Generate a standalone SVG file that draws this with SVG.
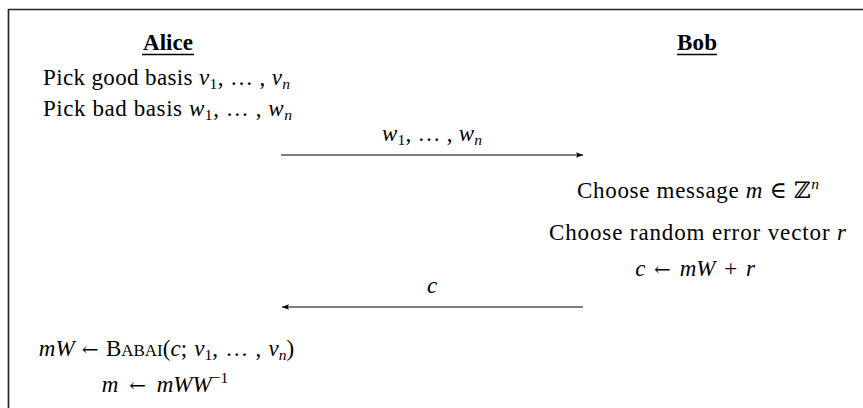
<svg xmlns="http://www.w3.org/2000/svg" width="863" height="408" viewBox="0 0 863 408">
<defs>
<style>
text{font-family:"Liberation Serif","DejaVu Serif",serif;font-size:23px;fill:#000;text-anchor:middle}
.b{font-weight:bold}
.i{font-style:italic}
.sub{font-size:15.5px;font-style:normal}
.si{font-size:15.5px;font-style:italic}
.ar{font-family:"DejaVu Serif",serif;font-size:20px}
.frame{stroke:#262626;stroke-width:1.7;fill:none}
.conn{stroke:#000;stroke-width:1.1;fill:none}
.ul{stroke:#000;stroke-width:1.3}
</style>
<marker id="ah" viewBox="0 0 10 10" refX="10" refY="5" markerWidth="10" markerHeight="7" markerUnits="userSpaceOnUse" orient="auto">
<path d="M0,1 L10,5 L0,9 L2,5 Z" fill="#000"/>
</marker>
</defs>
<rect width="863" height="408" fill="#fff"/>
<path class="frame" d="M8.5,420 L8.5,9.5 L870,9.5"/>
<g id="alice">
<text class="b" x="168" y="50" textLength="50">Alice</text>
<line class="ul" x1="142" y1="54.5" x2="194" y2="54.5"/>
<text x="166.5" y="85" textLength="247">Pick good basis <tspan class="i">v</tspan><tspan class="sub" dy="4">1</tspan><tspan dy="-4">, … , </tspan><tspan class="i">v</tspan><tspan class="si" dy="4">n</tspan></text>
<text x="167.5" y="116" textLength="249">Pick bad basis <tspan class="i">w</tspan><tspan class="sub" dy="4">1</tspan><tspan dy="-4">, … , </tspan><tspan class="i">w</tspan><tspan class="si" dy="4">n</tspan></text>
<text x="166.5" y="356" word-spacing="1.5"><tspan class="i">mW</tspan> <tspan class="ar">←</tspan> B<tspan font-size="17">ABAI</tspan>(<tspan class="i">c</tspan>; <tspan class="i">v</tspan><tspan class="sub" dy="4">1</tspan><tspan dy="-4">, … , </tspan><tspan class="i">v</tspan><tspan class="si" dy="4">n</tspan><tspan dy="-4">)</tspan></text>
<text x="165" y="392" word-spacing="5"><tspan class="i">m</tspan> <tspan class="ar">←</tspan> <tspan class="i">mWW</tspan><tspan class="sub" dy="-9">−1</tspan></text>
</g>
<g id="bob">
<text class="b" x="697" y="50" textLength="40">Bob</text>
<line class="ul" x1="677" y1="54.5" x2="717" y2="54.5"/>
<text x="698" y="198" textLength="242">Choose message <tspan class="i">m</tspan> ∈ ℤ<tspan class="si" dy="-9">n</tspan></text>
<text x="697.5" y="240" textLength="297">Choose random error vector <tspan class="i">r</tspan></text>
<text x="695" y="276" word-spacing="3"><tspan class="i">c</tspan> <tspan class="ar">←</tspan> <tspan class="i">mW</tspan> + <tspan class="i">r</tspan></text>
</g>
<g id="connectors">
<line class="conn" x1="281" y1="155" x2="583" y2="155" marker-end="url(#ah)"/>
<text x="432" y="141" textLength="100"><tspan class="i">w</tspan><tspan class="sub" dy="4">1</tspan><tspan dy="-4">, … , </tspan><tspan class="i">w</tspan><tspan class="si" dy="4">n</tspan></text>
<line class="conn" x1="583" y1="307" x2="282" y2="307" marker-end="url(#ah)"/>
<text class="i" x="432" y="293">c</text>
</g>
</svg>
